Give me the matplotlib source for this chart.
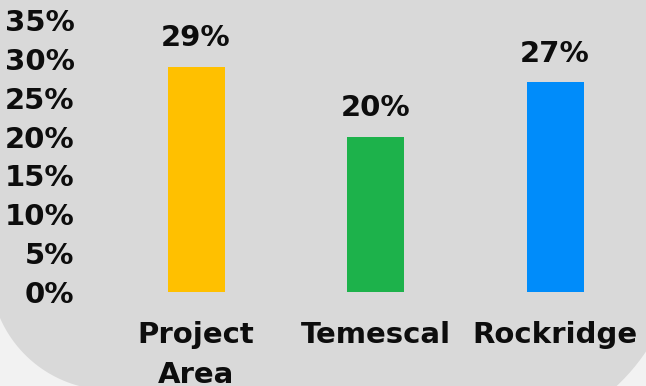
import numpy as np
import matplotlib
matplotlib.use("Agg")
import matplotlib.pyplot as plt
from matplotlib.path import Path
from matplotlib.patches import PathPatch
from matplotlib.transforms import Affine2D

# Data
categories = ["Project\nArea", "Temescal", "Rockridge"]
values = [29, 20, 27]
bar_colors = ["#ffc000", "#1db24b", "#008cfa"]
y_ticks = [0, 5, 10, 15, 20, 25, 30, 35]
y_tick_labels = [f"{t}%" for t in y_ticks]

W, H, DPI = 646, 386, 100
plt.rcParams["font.family"] = ["DejaVu Sans"]
plt.rcParams["font.weight"] = "bold"
TEXT = "#0d0d0d"
FS = 21

fig = plt.figure(figsize=(W / DPI, H / DPI), dpi=DPI, facecolor="#f2f2f2")

# Rounded grey panel behind the chart, drawn in pixel coordinates (y down)
px = Affine2D().scale(1 / W, -1 / H).translate(0, 1) + fig.transFigure
t1 = np.linspace(np.pi, np.pi / 2, 40)          # bottom-left corner
t2 = np.linspace(np.pi / 2, 0, 40)              # bottom-right corner
left_arc = np.column_stack([110 + 120 * np.cos(t1), 270 + 120 * np.sin(t1)])
right_arc = np.column_stack([480 + 200 * np.cos(t2), 240 + 200 * np.sin(t2)])
verts = np.vstack([[[-10, -10]], left_arc, right_arc, [[680, -10]], [[-10, -10]]])
codes = [Path.MOVETO] + [Path.LINETO] * (len(verts) - 2) + [Path.CLOSEPOLY]
fig.patches.append(PathPatch(Path(verts, codes), facecolor="#d9d9d9",
                             edgecolor="none", transform=px, zorder=-5))

# Axes placed so the plotting area spans the panel
ax_left, ax_bottom_px, ax_top_px = 80, 292, 20
ax = fig.add_axes([ax_left / W, (H - ax_bottom_px) / H,
                   1 - ax_left / W, (ax_bottom_px - ax_top_px) / H])
ax.set_facecolor("none")
ax.set_zorder(1)

step_px = 179.5
first_px = 196
x = np.arange(len(categories))
ax.bar(x, values, width=57 / step_px, color=bar_colors, zorder=2)
ax.set_xlim(-(first_px - ax_left) / step_px, (W - first_px) / step_px)
ax.set_ylim(0, 35)

for xi, v in zip(x, values):
    ax.annotate(f"{v}%", (xi, v), xytext=(0, 14.5), textcoords="offset points",
                ha="center", va="baseline", fontsize=FS, fontweight="bold",
                color=TEXT)

ax.set_yticks(y_ticks)
ax.set_yticklabels(y_tick_labels, fontsize=FS, fontweight="bold", color=TEXT)
ax.set_xticks(x)
ax.set_xticklabels(categories, fontsize=FS, fontweight="bold", color=TEXT,
                   linespacing=1.55)
ax.tick_params(axis="y", length=0, pad=4)
ax.tick_params(axis="x", length=0, pad=21)
for s in ax.spines.values():
    s.set_visible(False)

fig.savefig("out.png", dpi=DPI, facecolor=fig.get_facecolor())
